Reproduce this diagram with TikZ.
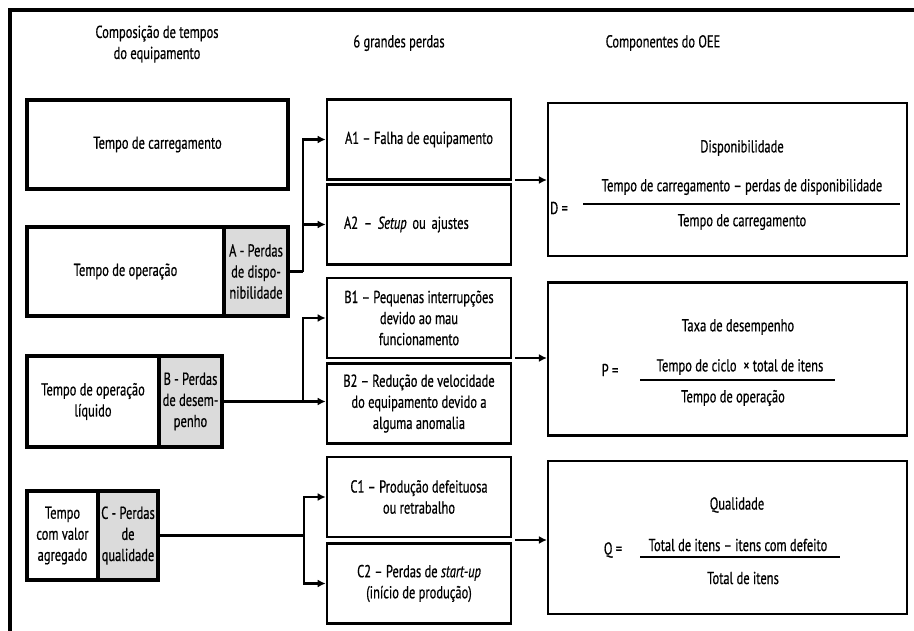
\documentclass[tikz,border=0pt]{standalone}
\usepackage{fontspec}
\setmainfont{PT Sans}[FakeStretch=0.72, FakeBold=0.6]
\usetikzlibrary{arrows.meta}

\begin{document}
\begin{tikzpicture}[x=0.75pt, y=-0.75pt,
    every node/.style={font=\fontsize{13}{15.8}\selectfont, inner sep=1pt, align=center},
    timebox/.style={draw, line width=2.6pt, minimum height=89*\px},
    lossbox/.style={timebox, fill=black!14},
    lossitem/.style={draw, line width=2pt, minimum width=184*\px, minimum height=80*\px},
    oeebox/.style={draw, line width=1.6pt, minimum width=359*\px, minimum height=153*\px},
    flow/.style={-{Latex[length=6pt,width=6pt]}, line width=1.8pt},
    fracbar/.style={line width=1.2pt}]

    % Parameters
    \def\px{0.75pt}

    \useasboundingbox (0,0) rectangle (914,631);

    % frame (cut off at right and bottom)
    \draw[line width=3pt] (914,10) -- (10,10) -- (10,631);

    % =====================================================
    % Headers
    % =====================================================
    \node (hcomp) at (157,44) {Composição de tempos\\do equipamento};
    \node (hperd) at (399,43) {6 grandes perdas};
    \node (hoee) at (663,43) {Componentes do OEE};

    % =====================================================
    % Left column: time composition
    % =====================================================
    \node[timebox, minimum width=261*\px] (carr) at (157.5,144.5) {Tempo de carregamento};

    \node[timebox, minimum width=197*\px] (op) at (125.5,271.5) {Tempo de operação};
    \node[lossbox, minimum width=64*\px] (opA) at (256,271.5) {A - Perdas\\de dispo-\\nibilidade};

    \node[timebox, minimum width=132*\px, minimum height=91*\px] (liq) at (93,401.5) {Tempo de operação\\líquido};
    \node[lossbox, minimum width=63*\px, minimum height=91*\px] (liqB) at (190.5,401.5) {B - Perdas\\de desem-\\penho};

    \node[timebox, minimum width=71*\px] (agr) at (62.5,535.5) {Tempo\\com valor\\agregado};
    \node[lossbox, minimum width=60*\px] (agrC) at (128,535.5) {C - Perdas\\de\\qualidade};

    % =====================================================
    % Middle column: 6 big losses
    % =====================================================
    \node[lossitem] (a1) at (419,139.5) {A1 -- Falha de equipamento};
    \node[lossitem, align=left, text width=150*\px] (a2) at (419,224.5) {A2 -- \textit{Setup} ou ajustes};
    \node[lossitem] (b1) at (419,318) {B1 -- Pequenas interrupções\\devido ao mau\\funcionamento};
    \node[lossitem] (b2) at (419,403.5) {B2 -- Redução de velocidade\\do equipamento devido a\\alguma anomalia};
    \node[lossitem] (c1) at (419,497) {C1 -- Produção defeituosa\\ou retrabalho};
    \node[lossitem] (c2) at (419,583.5) {C2 -- Perdas de \textit{start-up}\\(início de produção)};

    % left -> middle
    \coordinate (jA) at (303,271.5);
    \draw[line width=1.8pt] (opA.east) -- (jA);
    \draw[flow] (jA) |- (a1.west);
    \draw[flow] (jA |- a2.west) -- (a2.west);

    \coordinate (jB) at (303,401.5);
    \draw[flow] (liqB.east) -- (liqB.east -| b2.west);
    \draw[flow] (jB) |- (b1.west);

    \coordinate (jC) at (304,535.5);
    \draw[line width=1.8pt] (agrC.east) -- (jC);
    \draw[flow] (jC) |- (c1.west);
    \draw[flow] (jC) |- (c2.west);

    % =====================================================
    % Right column: OEE components
    % =====================================================
    \node[oeebox] (disp) at (727.5,179.5) {};
    \node[oeebox] (desemp) at (727.5,359) {};
    \node[oeebox] (qual) at (727.5,537.5) {};

    \node (dTit) at (742,148) {Disponibilidade};
    \node (dLhs) at (559,208) {D =};
    \node (dNum) at (742,187) {Tempo de carregamento -- perdas de disponibilidade};
    \node (dDen) at (742,222) {Tempo de carregamento};
    \draw[fracbar] (583,204) -- (900,204);

    \node (pTit) at (738,327) {Taxa de desempenho};
    \node (pLhs) at (610,370) {P =};
    \node (pNum) at (740,367) {Tempo de ciclo \ × total de itens};
    \node (pDen) at (733,398) {Tempo de operação};
    \draw[fracbar] (640,380) -- (835,380);

    \node (qTit) at (737,505) {Qualidade};
    \node (qLhs) at (613,550) {Q =};
    \node (qNum) at (738,545) {Total de itens -- itens com defeito};
    \node (qDen) at (743,578) {Total de itens};
    \draw[fracbar] (640,557) -- (840,557);

    % middle -> right
    \coordinate (aout) at (515,180);
    \coordinate (bout) at (515,358);
    \coordinate (cout) at (515,540);
    \draw[flow] (aout) -- (aout -| disp.west);
    \draw[flow] (bout) -- (bout -| desemp.west);
    \draw[flow] (cout) -- (cout -| qual.west);

\end{tikzpicture}
\end{document}
